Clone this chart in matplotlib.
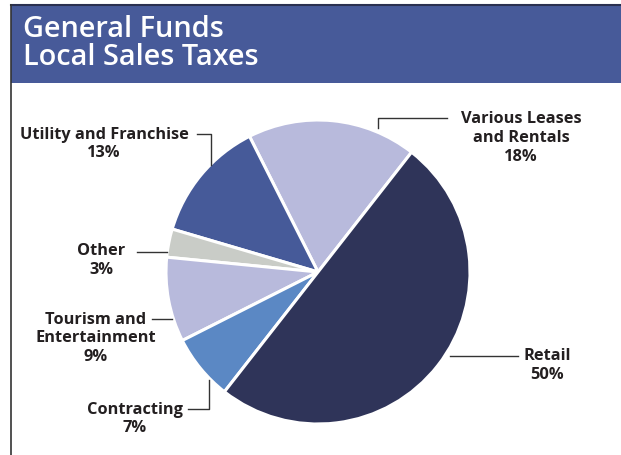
import matplotlib
matplotlib.use("Agg")
import matplotlib.pyplot as plt
from matplotlib.patches import Rectangle

# slice data, counter-clockwise from the Retail / Leases boundary
categories = ["Various Leases\nand Rentals", "Utility and Franchise", "Other",
              "Tourism and\nEntertainment", "Contracting", "Retail"]
shares = [18, 13, 3, 9, 7, 50]
colors = ["#b8badc", "#465a99", "#c9ccc7", "#b8badc", "#5b88c4", "#2f3459"]

W, H = 621, 455
fig = plt.figure(figsize=(W / 100, H / 100), dpi=100)
ax = fig.add_axes([0, 0, 1, 1])

# pie in pixel space (y measured from the bottom)
cx, cy, r = 318, H - 272, 152
ax.pie(shares, colors=colors, startangle=52, counterclock=True,
       center=(cx, cy), radius=r,
       wedgeprops=dict(edgecolor="white", linewidth=2.2))

ax.set_xlim(0, W)
ax.set_ylim(0, H)
ax.set_aspect("auto")
ax.axis("off")

# header band and frame
ax.add_patch(Rectangle((11, H - 83), W - 11, 78, facecolor="#475a99",
                       edgecolor="none", zorder=0))
ax.plot([11, W], [H - 5, H - 5], color="#2a3050", lw=1.5)
ax.plot([11, 11], [0, H - 5], color="#333333", lw=1.2)

title_font = dict(family="Open Sans", fontsize=20.8, fontweight="semibold",
                  color="white")
ax.text(23, H - 37, "General Funds", va="baseline", ha="left", **title_font)
ax.text(23, H - 65, "Local Sales Taxes", va="baseline", ha="left", **title_font)

lab = dict(family="Open Sans", fontsize=11.8, fontweight="bold",
           color="#231f20", ha="center", va="center", linespacing=1.22)
lc = dict(color="#333333", lw=1.0)

def y(v):
    return H - v

# Various Leases and Rentals
ax.text(521, y(138), "Various Leases\nand Rentals\n18%", **lab)
ax.plot([378, 378, 447], [y(128), y(118), y(118)], **lc)

# Utility and Franchise
ax.text(104, y(144), "Utility and Franchise\n13%", **lab)
ax.plot([197, 211, 211], [y(134), y(134), y(165)], **lc)

# Other
ax.text(101, y(260.5), "Other\n3%", **lab)
ax.plot([137, 167], [y(252), y(252)], **lc)

# Tourism and Entertainment
ax.text(96, y(338.5), "Tourism and\nEntertainment\n9%", **lab)
ax.plot([152, 172], [y(319), y(319)], **lc)

# Contracting
ax.text(135, y(419), "Contracting\n7%", **lab)
ax.plot([188, 209, 209], [y(409), y(409), y(380)], **lc)

# Retail
ax.text(547, y(365.5), "Retail\n50%", **lab)
ax.plot([450, 518], [y(356), y(356)], **lc)

fig.savefig("out.png", dpi=100)
